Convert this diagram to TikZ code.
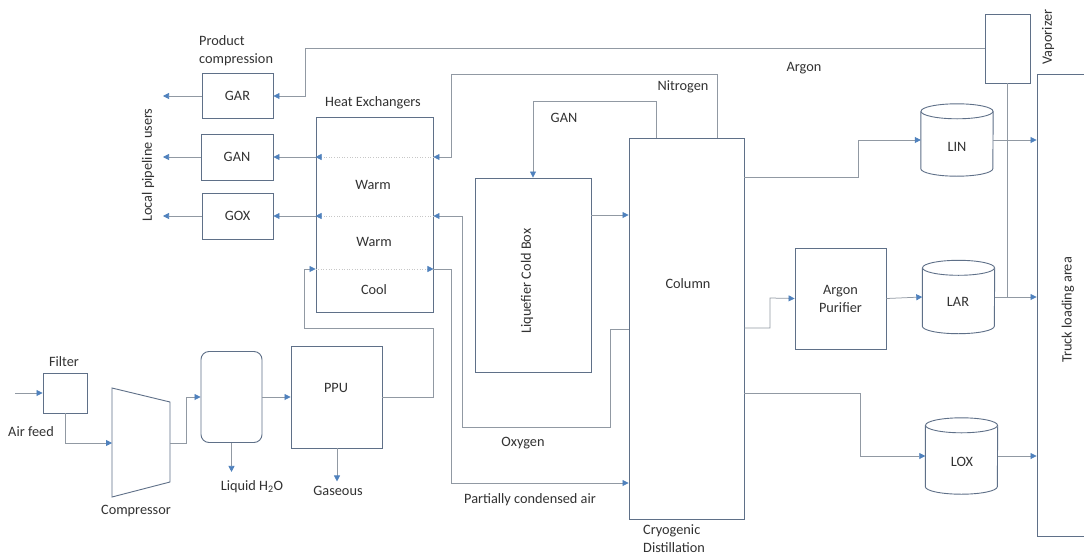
\documentclass[tikz,border=0pt]{standalone}
\usepackage{fontspec}
\setmainfont{Carlito}
\usetikzlibrary{arrows.meta}
\definecolor{asubox}{RGB}{95,112,136}
\definecolor{asuline}{RGB}{145,153,163}
\definecolor{asutip}{RGB}{79,129,189}
\definecolor{asutext}{RGB}{50,50,50}

\begin{document}
\begin{tikzpicture}[
    x=1pt, y=-1pt,
    font=\fontsize{14.3}{18}\selectfont, text=asutext,
    >={Triangle[length=6pt,width=6pt,color=asutip]},
    unit/.style={draw=asubox, line width=0.9pt, fill=white, inner sep=0pt},
    tank/.style={inner sep=0pt, minimum width=72pt},
    flow/.style={draw=asuline, line width=0.75pt, ->},
    pass/.style={draw=black!22, line width=0.6pt, dotted, ->},
    tag/.style={inner sep=0pt},
  ]
  \useasboundingbox[fill=white] (0,0) rectangle (1084,557);

  %% ---------------- front end: filter, compressor, dryer, PPU ----------------
  \node[unit, minimum width=44pt, minimum height=40pt] (filt) at (65,393) {};
  \draw[draw=asubox, line width=0.9pt] (112,388) -- (170,402) -- (170,482) -- (112,497) -- cycle;
  \coordinate (cmpin) at (112,443);
  \coordinate (cmpout) at (170,443);
  \coordinate (feed) at (15,393);
  \node[unit, rounded corners=8pt, minimum width=61pt, minimum height=91pt] (sep) at (231.5,397) {};
  \node[unit, minimum width=91pt, minimum height=102pt] (ppu) at (336.5,397) {};

  \draw[flow] (feed) -- (filt.west);
  \draw[flow] (filt.south) |- (cmpin);
  \draw[flow] (cmpout) -| (186,397) -- (sep.west);
  \draw[flow] (sep.east) -- (ppu.west);
  \draw[flow] (sep.south) -- ++(0,29);
  \draw[flow] (ppu.south -| 337,0) -- ++(0,33);

  \node[tag] at (64,362) {Filter};
  \node[tag] at (31,432) {Air feed};
  \node[tag] at (136,511) {Compressor};
  \node[tag] at (252,487) {Liquid H\textsubscript{2}O};
  \node[tag] at (338,491) {Gaseous};
  \node[tag] at (336,388) {PPU};

  %% ---------------- product compression ----------------
  \node[unit, minimum width=71pt, minimum height=45pt] (gar) at (237.5,96) {GAR};
  \node[unit, minimum width=72pt, minimum height=46pt] (gan) at (237,157) {GAN};
  \node[unit, minimum width=71pt, minimum height=46pt] (gox) at (237.5,216) {GOX};
  \draw[flow] (gar.west) -- (163,96);
  \draw[flow] (gan.west) -- (163,157);
  \draw[flow] (gox.west) -- (163,216);
  \node[tag, anchor=west, align=left] at (199,51) {Product\\compression};
  \node[tag, rotate=90] at (148,165) {Local pipeline users};

  %% ---------------- heat exchangers, cold box, column ----------------
  \node[unit, minimum width=117pt, minimum height=195pt] (hx) at (374.5,214.5) {};
  \node[unit, minimum width=116pt, minimum height=194pt] (cold) at (533,275) {};
  \node[unit, minimum width=115pt, minimum height=381pt] (col) at (686.5,328.5) {};
  \node[tag] at (373,103) {Heat Exchangers};
  \node[tag] at (373,185) {Warm};
  \node[tag] at (374,242) {Warm};
  \node[tag] at (374,290) {Cool};
  \node[tag, rotate=90] at (527,281) {Liquefier Cold Box};
  \node[tag] at (688,284) {Column};
  \node[tag, anchor=north west, align=left] at (643,524) {Cryogenic\\Distillation};

  % nitrogen back through the warm end
  \draw[flow] (col.north -| 717,0) |- (451,74) |- (hx.east |- 0,157);
  \draw[pass] (hx.east |- 0,157) -- (hx.west |- 0,157);
  \draw[flow] (hx.west |- 0,157) -- (gan.east);
  % oxygen
  \draw[flow] (col.west |- 0,329) -| (610,427) -| (462,216) -- (hx.east |- 0,216);
  \draw[pass] (hx.east |- 0,216) -- (hx.west |- 0,216);
  \draw[flow] (hx.west |- 0,216) -- (gox.east);
  % feed air through the cool end
  \draw[flow] (ppu.east) -| (433,328) -| (304,269) -- (hx.west |- 0,269);
  \draw[pass] (hx.west |- 0,269) -- (hx.east |- 0,269);
  \draw[flow] (hx.east |- 0,269) -| (451,483) -- (col.west |- 0,483);
  % GAN to liquefier
  \draw[flow] (col.north -| 656,0) |- (533,101) -- (cold.north);
  \draw[flow] (cold.east |- 0,215) -- (col.west |- 0,215);

  \node[tag] at (683,87) {Nitrogen};
  \node[tag] at (564,118) {GAN};
  \node[tag] at (523,443) {Oxygen};
  \node[tag] at (530,500) {Partially condensed air};

  %% ---------------- liquid products ----------------
  \node[unit, minimum width=45pt, minimum height=69pt] (vap) at (1007.5,48.5) {};
  \node[unit, minimum width=70pt, minimum height=462pt] (truck) at (1072,305.5) {};
  \node[unit, minimum width=91pt, minimum height=101pt, align=center] (pur) at (840.5,298.5) {Argon\\Purifier};
  \node[tank, minimum height=72pt] (lin) at (957,140) {};
  \node[tank, minimum height=73pt] (lar) at (958.5,297) {};
  \node[tank, minimum height=76pt] (lox) at (961.5,456) {};
  % storage tanks as upright cylinders
  \foreach \t in {lin,lar,lox} {
    \draw[unit] ([yshift=-7.5pt]\t.north west) -- ([yshift=7.5pt]\t.south west)
      arc[start angle=180, end angle=360, x radius=36pt, y radius=7.5pt]
      -- ([yshift=-7.5pt]\t.north east);
    \draw[unit] ([yshift=-7.5pt]\t.north) ellipse[x radius=36pt, y radius=7.5pt];
  }
  \node[tag] at (957,147) {LIN};
  \node[tag] at (958,302) {LAR};
  \node[tag] at (962,462) {LOX};

  \draw[flow] (col.east |- 0,177) -| (858,140) -- (lin.west);
  \draw[flow] (col.east |- 0,328) -| (770,298) -- (pur.west);
  \draw[flow] (pur.east) -- (lar.west);
  \draw[flow] (col.east |- 0,393) -| (860,456) -- (lox.west);
  \draw[flow] (lin.east) -- (lin.east -| truck.west);
  \draw[flow] (lar.east) -- (lar.east -| truck.west);
  \draw[flow] (lox.east) -- (lox.east -| truck.west);
  \draw[flow, -] (vap.south) -- (vap.south |- lar.east);
  \draw[flow] (vap.west |- 0,48) -| (305,96) -- (gar.east);

  \node[tag] at (804,68) {Argon};
  \node[tag, rotate=90] at (1048,37) {Vaporizer};
  \node[tag, rotate=90] at (1068,310) {Truck loading area};
\end{tikzpicture}
\end{document}
